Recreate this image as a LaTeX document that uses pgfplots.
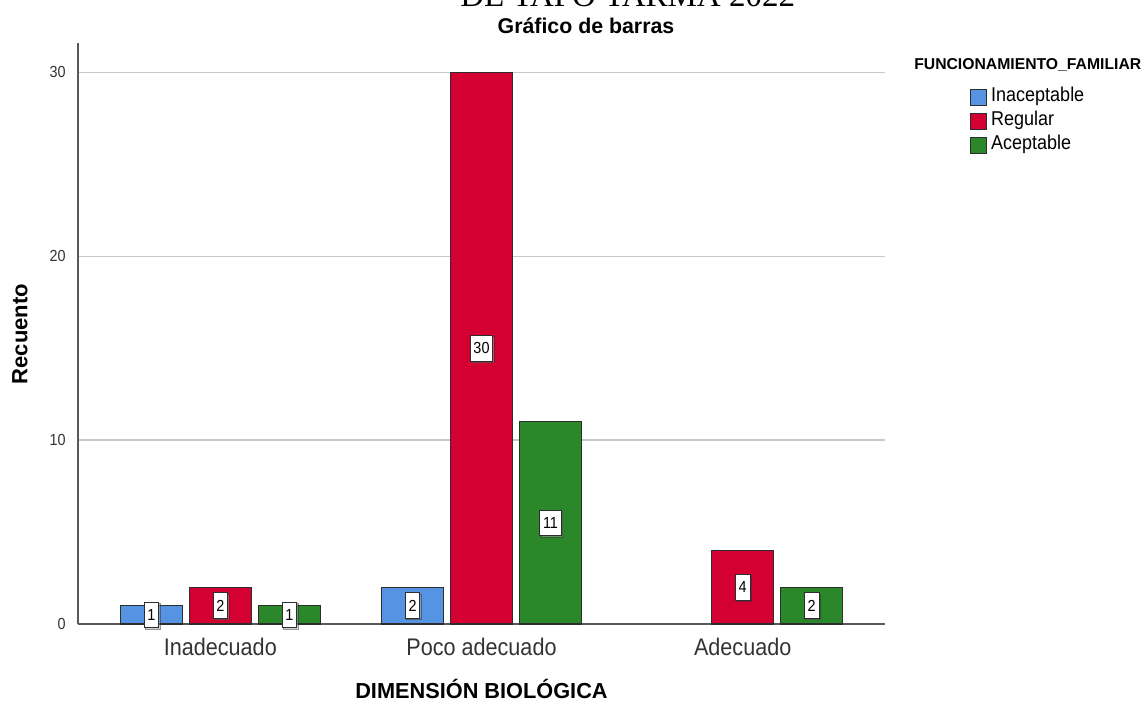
\documentclass[border=0pt]{standalone}
\usepackage{fontspec}
\setmainfont{Liberation Sans}
\newfontfamily\spss{Liberation Sans}[FakeStretch=0.9]
\newfontfamily\serif{Liberation Serif}
\usepackage{pgfplots}
\pgfplotsset{compat=1.18}
\usetikzlibrary{shadows}

\definecolor{cblue}{RGB}{86,148,227}
\definecolor{cred}{RGB}{213,0,50}
\definecolor{cgreen}{RGB}{42,135,42}
\definecolor{edge}{RGB}{45,45,45}
\definecolor{gridc}{RGB}{200,200,200}

\begin{document}
\begin{tikzpicture}
\begin{axis}[
  at={(0pt,0pt)}, anchor=south west,
  scale only axis, width=605.25pt, height=435.75pt,
  xmin=-0.545, xmax=2.545, ymin=0, ymax=31.6,
  ybar=5.25pt, bar width=46.5pt,
  axis lines*=left,
  axis line style={-, draw=black!65, line width=0.9pt},
  major tick length=0pt,
  xtick={0,1,2},
  xticklabels={Inadecuado, Poco adecuado, Adecuado},
  ytick={0,10,20,30},
  ymajorgrids, grid style={gridc, line width=1.1pt},
  /pgf/number format/assume math mode=true,
  xticklabel style={font=\spss\fontsize{18pt}{20pt}\selectfont, text=black!80, anchor=base, inner sep=0pt, yshift=-23.25pt},
  yticklabel style={font=\spss\fontsize{12pt}{14pt}\selectfont, text=black!80, anchor=east, inner sep=0pt, xshift=-9pt},
  visualization depends on={rawy \as \rawy},
  nodes near coords,
  nodes near coords align={center},
  every node near coord/.append style={font=\spss\fontsize{12pt}{14pt}\selectfont,
    fill=white, draw=edge, line width=0.7pt, inner xsep=2.5pt, inner ysep=5.5pt,
    anchor=center, yshift=-6.895pt*\rawy,
    drop shadow={shadow xshift=1pt, shadow yshift=-1pt, fill=black!35}},
  legend style={at={(1.1053,0.9277)}, anchor=north west, draw=none, fill=none,
    inner sep=0pt, row sep=0pt,
    nodes={inner sep=0pt, text height=12pt, text depth=6pt, font=\spss\fontsize{15pt}{18pt}\selectfont},
    /tikz/every odd column/.append style={column sep=3pt}},
  legend cell align=left,
  legend image code/.code={\draw[#1, draw=edge, line width=0.7pt] (0pt,-6pt) rectangle (12pt,6pt);},
]
\addplot[fill=cblue, draw=edge, line width=0.9pt]
  coordinates {(0,1) (1,2)};
\addplot[fill=cred, draw=edge, line width=0.9pt]
  coordinates {(0,2) (1,30) (2,4)};
\addplot[fill=cgreen, draw=edge, line width=0.9pt]
  coordinates {(0,1) (1,11) (2,2)};
\legend{Inaceptable, Regular, Aceptable}
\end{axis}

\path[use as bounding box] (-58.5pt,-60pt) rectangle (799.5pt,468pt);
\begin{scope}
\clip (-58.5pt,-60pt) rectangle (799.5pt,468pt);
\node[anchor=base west, inner sep=0pt, font=\serif\fontsize{24.75pt}{28pt}\selectfont]
  at (286.5pt,462.75pt) {DE TAPO TARMA 2022};
\end{scope}
\node[anchor=base, inner sep=0pt, font=\bfseries\fontsize{16pt}{18pt}\selectfont]
  at (381pt,442.5pt) {Gráfico de barras};
\node[anchor=base, inner sep=0pt, font=\bfseries\fontsize{16.3pt}{18pt}\selectfont]
  at (302.6pt,-55.5pt) {DIMENSIÓN BIOLÓGICA};
\node[rotate=90, inner sep=0pt, font=\bfseries\fontsize{16.5pt}{18pt}\selectfont]
  at (-43.5pt,217.5pt) {Recuento};
\node[anchor=base west, inner sep=0pt, font=\bfseries\fontsize{11.8pt}{14pt}\selectfont]
  at (627pt,415.5pt) {FUNCIONAMIENTO\_FAMILIAR};
\end{tikzpicture}
\end{document}
